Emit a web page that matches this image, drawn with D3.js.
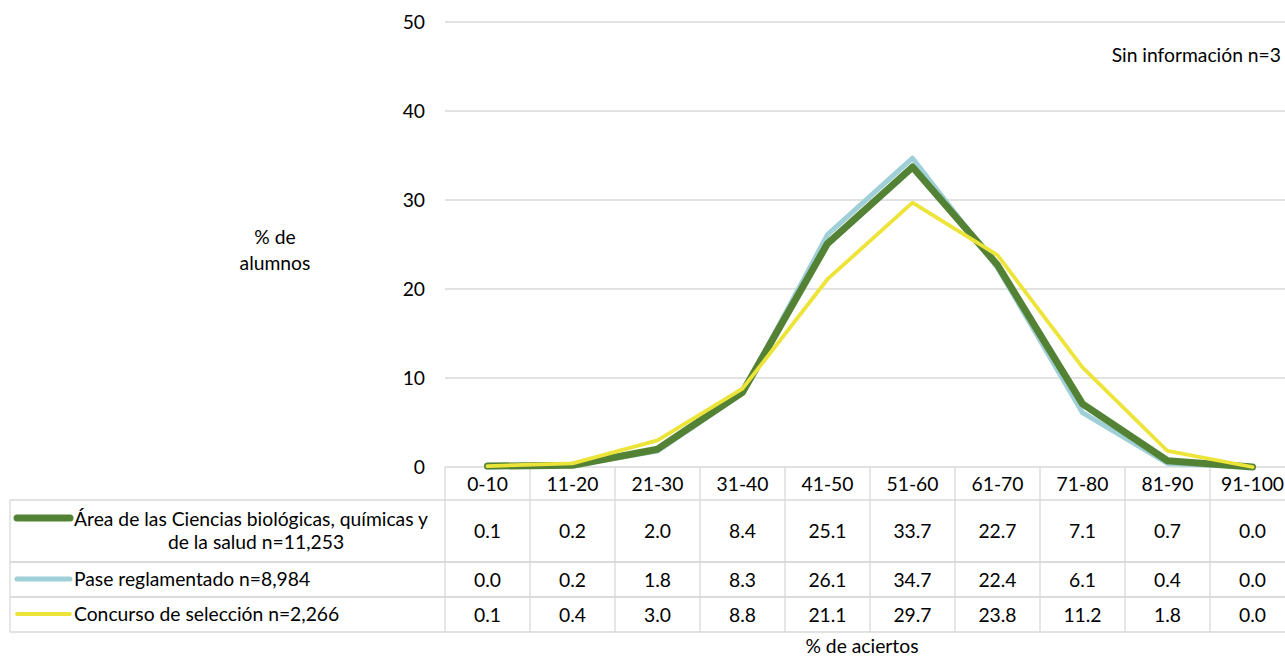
<!DOCTYPE html>
<html>
<head>
<meta charset="utf-8">
<script src="https://cdn.jsdelivr.net/npm/d3@7"></script>
<style>
  body { margin: 0; background: #fff; }
  svg text { font-family: Lato, "Open Sans", sans-serif; fill: #000; }
</style>
</head>
<body>
<div id="chart"></div>
<script>
// categories (% de aciertos)
var categories = ["0-10", "11-20", "21-30", "31-40", "41-50", "51-60", "61-70", "71-80", "81-90", "91-100"];

// series values (% de alumnos)
var areaValues = [0.1, 0.2, 2.0, 8.4, 25.1, 33.7, 22.7, 7.1, 0.7, 0.0];
var paseValues = [0.0, 0.2, 1.8, 8.3, 26.1, 34.7, 22.4, 6.1, 0.4, 0.0];
var concursoValues = [0.1, 0.4, 3.0, 8.8, 21.1, 29.7, 23.8, 11.2, 1.8, 0.0];

var seriesNames = ["Área de las Ciencias biológicas, químicas y de la salud n=11,253",
                   "Pase reglamentado n=8,984",
                   "Concurso de selección n=2,266"];

var yTicks = [0, 10, 20, 30, 40, 50];

var width = 1285, height = 658;
var margin = {left: 445, top: 22, right: -10};
var plotBottom = 467;
var fs = "19.3px";

var svg = d3.select("#chart").append("svg")
    .attr("width", width)
    .attr("height", height);

var x = d3.scaleBand()
    .domain(categories)
    .range([margin.left, width - margin.right])
    .padding(0);

var y = d3.scaleLinear()
    .domain([0, 50])
    .range([plotBottom, margin.top]);

// gridlines
svg.append("g")
    .selectAll("line")
    .data(yTicks)
    .enter()
    .append("line")
        .attr("x1", margin.left)
        .attr("x2", width - margin.right)
        .attr("y1", function(d) { return y(d); })
        .attr("y2", function(d) { return y(d); })
        .attr("stroke", "#d9d9d9")
        .attr("stroke-width", 1.3);

// y tick labels
svg.append("g")
    .selectAll("text")
    .data(yTicks)
    .enter()
    .append("text")
        .attr("x", 425)
        .attr("y", function(d) { return y(d) + 7; })
        .attr("text-anchor", "end")
        .attr("font-size", fs)
        .text(function(d) { return d; });

// y title
svg.append("text")
    .attr("x", 275).attr("y", 244)
    .attr("text-anchor", "middle").attr("font-size", fs)
    .text("% de");
svg.append("text")
    .attr("x", 275).attr("y", 270)
    .attr("text-anchor", "middle").attr("font-size", fs)
    .text("alumnos");

// note
svg.append("text")
    .attr("x", 1281).attr("y", 62)
    .attr("text-anchor", "end").attr("font-size", fs)
    .text("Sin información n=3");

// data table
var rows = [
    {name: seriesNames[0], values: areaValues, color: "#548235", width: 7, top: 500, bottom: 562, key: 518},
    {name: seriesNames[1], values: paseValues, color: "#9fcfd7", width: 5, top: 562, bottom: 597, key: 579},
    {name: seriesNames[2], values: concursoValues, color: "#ede43a", width: 3.8, top: 597, bottom: 632, key: 614}
];

var tbl = svg.append("g").attr("class", "table");
var gridColor = "#d9d9d9";

// header row verticals + category labels
categories.forEach(function(c) {
    tbl.append("line")
        .attr("x1", x(c)).attr("x2", x(c))
        .attr("y1", plotBottom).attr("y2", 632)
        .attr("stroke", gridColor).attr("stroke-width", 1.3);
    tbl.append("text")
        .attr("x", x(c) + x.bandwidth() / 2)
        .attr("y", 491)
        .attr("text-anchor", "middle")
        .attr("font-size", fs)
        .text(c);
});

// left column border
tbl.append("line")
    .attr("x1", 10).attr("x2", 10)
    .attr("y1", 500).attr("y2", 632)
    .attr("stroke", gridColor).attr("stroke-width", 1.3);

rows.forEach(function(r) {
    [r.top, r.bottom].forEach(function(yy) {
        tbl.append("line")
            .attr("x1", 10).attr("x2", width)
            .attr("y1", yy).attr("y2", yy)
            .attr("stroke", gridColor).attr("stroke-width", 1.3);
    });
    var cy = (r.top + r.bottom) / 2;
    r.values.forEach(function(v, i) {
        tbl.append("text")
            .attr("x", x(categories[i]) + x.bandwidth() / 2)
            .attr("y", cy + 7)
            .attr("text-anchor", "middle")
            .attr("font-size", fs)
            .text(v.toFixed(1));
    });
    // legend key
    tbl.append("line")
        .attr("x1", 17).attr("x2", 70)
        .attr("y1", r.key).attr("y2", r.key)
        .attr("stroke", r.color).attr("stroke-width", r.width)
        .attr("stroke-linecap", "round");
});

tbl.append("text").attr("x", 74).attr("y", 526).attr("font-size", fs)
    .text("Área de las Ciencias biológicas, químicas y");
tbl.append("text").attr("x", 256).attr("y", 549).attr("font-size", fs)
    .attr("text-anchor", "middle")
    .text("de la salud n=11,253");
tbl.append("text").attr("x", 74).attr("y", 586).attr("font-size", fs)
    .text(seriesNames[1]);
tbl.append("text").attr("x", 74).attr("y", 621).attr("font-size", fs)
    .text(seriesNames[2]);

// lines: pase underneath, area over it, concurso on top
var line = d3.line()
    .x(function(d, i) { return x(categories[i]) + x.bandwidth() / 2; })
    .y(function(d) { return y(d); });

[rows[1], rows[0], rows[2]].forEach(function(r) {
    svg.append("path")
        .datum(r.values)
        .attr("fill", "none")
        .attr("stroke", r.color)
        .attr("stroke-width", r.width)
        .attr("stroke-linejoin", "round")
        .attr("stroke-linecap", "round")
        .attr("d", line);
});

// x title
svg.append("text")
    .attr("x", 862).attr("y", 653)
    .attr("text-anchor", "middle").attr("font-size", fs)
    .text("% de aciertos");
</script>
</body>
</html>
